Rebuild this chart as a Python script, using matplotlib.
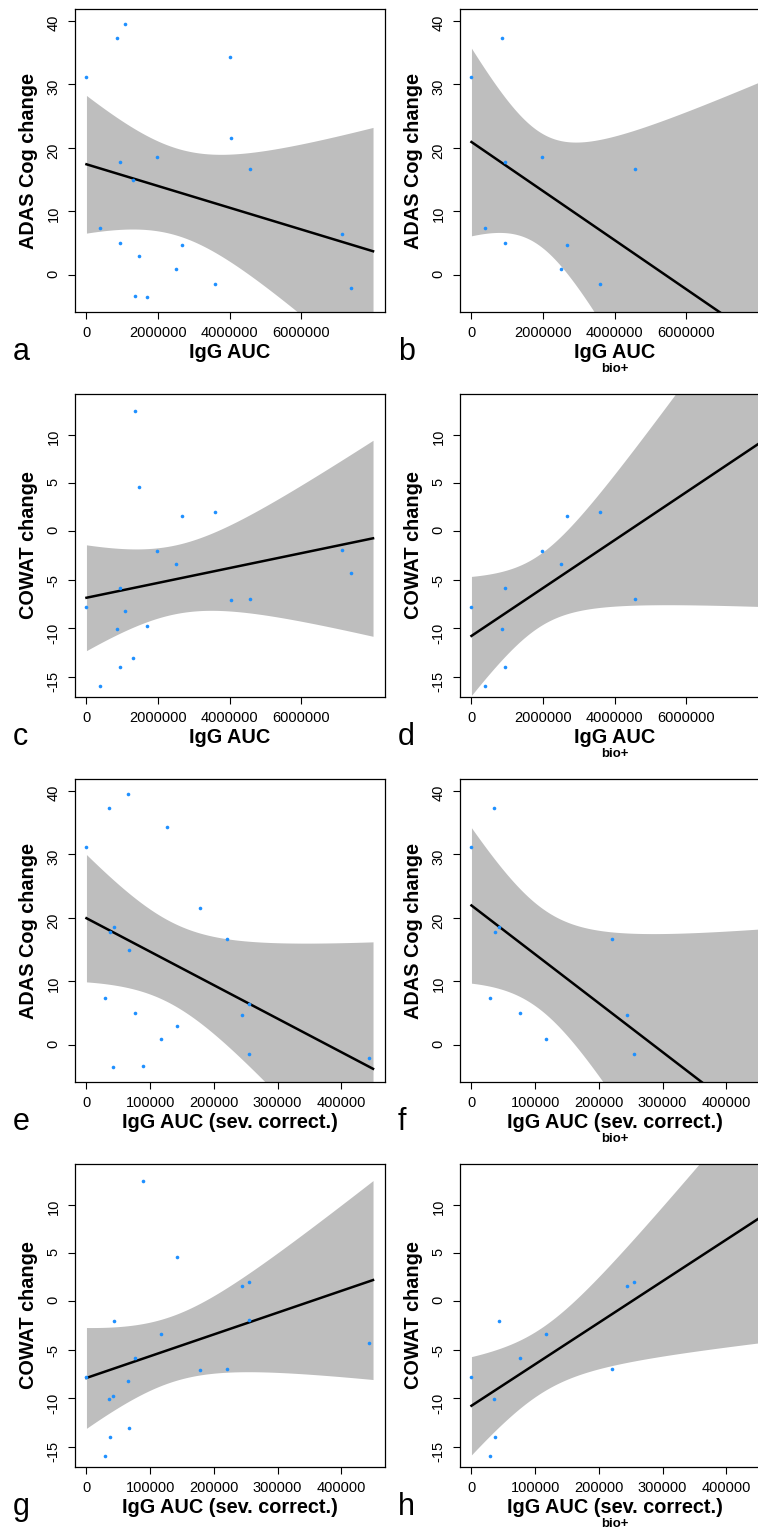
import numpy as np
import matplotlib
matplotlib.use("Agg")
import matplotlib.pyplot as plt

plt.rcParams['font.family'] = ['Liberation Sans', 'DejaVu Sans']

# one value per patient (same order in every array)
igg_auc = np.array([0, 856000, 1070000, 4009000, 4037000, 949000, 1963000, 1293000, 4558000, 391000,
                    940000, 2679000, 1470000, 2512000, 7144000, 3581000, 7377000, 1363000, 1688000])
igg_auc_sev = np.array([0, 35100, 65400, 126200, 178000, 37200, 43500, 66500, 221000, 28800,
                        76400, 245000, 142400, 117300, 254500, 256000, 443000, 89000, 42400])
adas_change = np.array([31.1, 37.3, 39.4, 34.3, 21.6, 17.7, 18.5, 15.0, 16.6, 7.4,
                        5.1, 4.75, 3.0, 1.0, 6.45, -1.4, -2.0, -3.2, -3.5])
cowat_change = np.array([-7.75, -10.05, -8.2, np.nan, -7.1, -14.0, -2.0, -13.05, -6.95, -15.9,
                         -5.8, 1.65, 4.6, -3.4, -1.9, 2.05, -4.25, 12.45, -9.8])
bio_pos = np.array([1, 1, 0, 0, 0, 1, 1, 0, 1, 1, 1, 1, 0, 1, 0, 1, 0, 0, 0], dtype=bool)

auc_ticks = [0, 2000000, 4000000, 6000000]
sev_ticks = [0, 100000, 200000, 300000, 400000]
adas_ticks = [0, 10, 20, 30, 40]
cowat_ticks = [-15, -10, -5, 0, 5, 10]

auc_range = (0, 8000000)
sev_range = (0, 450000)
adas_range = (-4, 40)
cowat_range = (-15.9, 13.0)

# t quantiles (0.975) for the 95% confidence band
T975 = {8: 2.306, 16: 2.120, 17: 2.110}


def fit_band(x, y, xs):
    n = len(x)
    b, a = np.polyfit(x, y, 1)
    res = y - (a + b * x)
    s = np.sqrt(np.sum(res ** 2) / (n - 2))
    se = s * np.sqrt(1 / n + (xs - x.mean()) ** 2 / np.sum((x - x.mean()) ** 2))
    fit = a + b * xs
    return fit, fit - T975[n - 2] * se, fit + T975[n - 2] * se


def expand(r):
    d = 0.04 * (r[1] - r[0])
    return (r[0] - d, r[1] + d)


W, H = 758, 1530
fig = plt.figure(figsize=(W / 100, H / 100), dpi=100)

panels = [
    ('a', 'auc', 'adas', False), ('b', 'auc', 'adas', True),
    ('c', 'auc', 'cowat', False), ('d', 'auc', 'cowat', True),
    ('e', 'sev', 'adas', False), ('f', 'sev', 'adas', True),
    ('g', 'sev', 'cowat', False), ('h', 'sev', 'cowat', True),
]

for i, (letter, xk, yk, bio_only) in enumerate(panels):
    row, col = i // 2, i % 2
    left = 75 + col * 385
    top = 9.3 + row * 385
    w, h = 309.5, 302.5
    ax = fig.add_axes([left / W, 1 - (top + h) / H, w / W, h / H])

    x = igg_auc if xk == 'auc' else igg_auc_sev
    y = adas_change if yk == 'adas' else cowat_change
    xr = auc_range if xk == 'auc' else sev_range
    yr = adas_range if yk == 'adas' else cowat_range

    keep = ~np.isnan(y)
    if bio_only:
        keep &= bio_pos
    xv, yv = x[keep].astype(float), y[keep]

    xs = np.linspace(xr[0], xr[1], 200)
    fit, lo, hi = fit_band(xv, yv, xs)
    ax.fill_between(xs, lo, hi, color='#bebebe', lw=0, zorder=1)
    ax.plot(xs, fit, color='black', lw=1.8, zorder=2)
    ax.plot(xv, yv, 'o', color='#1e90ff', ms=2.6, mew=0, zorder=3)

    ax.set_xlim(expand(xr))
    ax.set_ylim(expand(yr))
    xt = auc_ticks if xk == 'auc' else sev_ticks
    yt = adas_ticks if yk == 'adas' else cowat_ticks
    ax.set_xticks(xt, [str(t) for t in xt])
    ax.set_yticks(yt, [str(t) for t in yt])
    ax.tick_params(direction='out', length=5, width=0.8, pad=5.5, labelsize=10.5,
                   colors='black')
    ax.tick_params(axis='y', labelrotation=90)
    for sp in ax.spines.values():
        sp.set_linewidth(0.9)

    ylabel = 'ADAS Cog change' if yk == 'adas' else 'COWAT change'
    xlabel = 'IgG AUC' if xk == 'auc' else 'IgG AUC (sev. correct.)'
    ax.annotate(ylabel, (0, 0.5), xycoords='axes fraction', xytext=(-33.8, 0),
                textcoords='offset points', rotation=90, ha='center', va='center',
                fontsize=14.3, fontweight='bold')
    ax.annotate(xlabel, (0.5, 0), xycoords='axes fraction', xytext=(0, -29.5),
                textcoords='offset points', ha='center', va='center',
                fontsize=14.3, fontweight='bold')
    if bio_only:
        ax.annotate('bio+', (0.5, 0), xycoords='axes fraction', xytext=(0, -41),
                    textcoords='offset points', ha='center', va='center',
                    fontsize=9.5, fontweight='bold')
    ax.annotate(letter, (0, 0), xycoords='axes fraction', xytext=(-44.6, -34.6),
                textcoords='offset points', ha='left', va='baseline', fontsize=22)

fig.savefig('out.png', dpi=100)
